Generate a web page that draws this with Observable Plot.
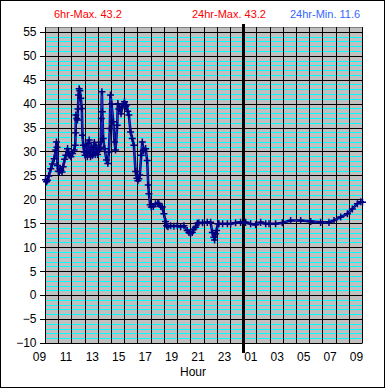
<!DOCTYPE html>
<html>
<head>
<meta charset="utf-8">
<script src="https://cdn.jsdelivr.net/npm/d3@7"></script>
<script src="https://cdn.jsdelivr.net/npm/@observablehq/plot@0.6"></script>
<style>
  html, body { margin: 0; padding: 0; background: #fff; }
  #wrap { position: relative; width: 385px; height: 388px; overflow: hidden; font-family: "Liberation Sans", Arial, sans-serif; }
  #wrap svg { position: absolute; left: 0; top: 0; }
  #border { position: absolute; left: 0; top: 0; width: 385px; height: 388px; box-sizing: border-box; border: 1px solid #000; pointer-events: none; }
  .hdr { position: absolute; top: 8px; font-size: 11px; white-space: nowrap; }
  #xlabel { position: absolute; left: 180px; top: 365px; font-size: 12px; }
</style>
</head>
<body>
<div id="wrap">
  <span class="hdr" style="left:54px;color:#ff0000">6hr-Max. 43.2</span>
  <span class="hdr" style="left:192px;color:#ff0000">24hr-Max. 43.2</span>
  <span class="hdr" style="left:290px;color:#3366ff">24hr-Min. 11.6</span>
  <span id="xlabel">Hour</span>
  <div id="border"></div>
</div>
<script>
// hours elapsed since 09:00
const hours = [
  0.00,0.08,0.15,0.25,0.40,0.52,0.66,0.78,0.83,0.87,0.91,0.97,1.04,1.10,1.16,1.25,1.34,1.45,1.54,1.67,
  1.74,1.80,1.92,2.05,2.17,2.25,2.28,2.30,2.36,2.42,2.46,2.50,2.55,2.60,2.67,2.75,2.80,2.86,2.93,3.00,
  3.06,3.11,3.17,3.23,3.31,3.36,3.41,3.48,3.56,3.62,3.70,3.76,3.81,3.88,3.94,4.00,4.07,4.13,4.19,4.23,
  4.27,4.30,4.37,4.47,4.62,4.72,4.80,4.87,4.92,5.00,5.13,5.23,5.30,5.43,5.48,5.55,5.63,5.72,5.81,5.90,
  5.98,6.06,6.14,6.22,6.31,6.44,6.57,6.69,6.82,6.92,6.99,7.07,7.14,7.25,7.33,7.40,7.45,7.58,7.70,7.78,
  7.83,7.92,8.01,8.16,8.33,8.51,8.58,8.72,8.84,8.96,9.09,9.17,9.27,9.47,9.72,9.98,10.23,10.48,10.73,10.86,
  10.98,11.11,11.23,11.36,11.49,11.61,11.89,12.25,12.50,12.63,12.75,12.80,12.88,12.95,13.05,13.13,13.41,13.77,14.02,14.39,
  14.77,15.15,15.53,15.91,16.29,16.67,16.92,17.42,17.93,18.56,19.32,20.08,20.83,21.46,21.84,22.35,22.86,23.23,23.61,23.86,
  24.00
];
const temps = [
  24.2,23.8,24.1,25.0,26.5,27.5,28.6,30.4,32.1,31.0,27.2,26.0,25.9,26.5,26.2,25.8,26.9,28.5,29.3,30.7,
  30.0,29.3,29.0,29.7,30.4,31.4,34.0,37.7,37.0,36.7,39.0,41.9,43.2,42.8,41.2,39.1,33.5,31.4,30.0,29.3,
  31.5,30.2,29.0,31.8,32.5,30.0,29.0,31.0,29.3,30.5,32.0,29.5,31.4,30.0,29.5,30.8,30.4,31.0,32.1,37.0,
  42.6,38.4,32.8,30.7,28.3,27.6,30.0,34.9,41.9,40.0,36.3,32.1,30.4,35.6,40.1,39.0,39.1,38.0,39.5,40.0,
  40.5,39.5,39.8,38.5,37.7,34.2,32.8,31.4,25.9,24.5,24.0,24.4,25.2,29.3,32.1,30.3,30.4,30.7,28.2,23.1,
  21.3,19.0,18.5,18.6,19.2,19.3,19.2,18.6,18.5,17.1,15.5,14.6,14.4,14.6,14.5,14.6,14.4,14.6,13.6,13.2,
  13.0,13.2,13.9,14.3,15.1,15.2,15.2,15.3,15.3,13.2,12.2,11.6,12.9,13.6,15.0,15.0,15.0,15.0,15.0,15.2,
  15.3,15.3,15.0,14.8,15.3,15.0,15.0,15.0,15.2,15.7,15.7,15.5,15.3,15.3,15.7,16.4,17.1,18.1,19.2,19.6,
  19.5
];
const yMajor = [-10,-5,0,5,10,15,20,25,30,35,40,45,50,55];
const yMinor = d3.range(-9, 55).filter(v => v % 5 !== 0);
const hourGrid = d3.range(0, 25);
const xTicks = [0,2,4,6,8,10,12,14,16,18,20,22,24];
const xLabels = ["09","11","13","15","17","19","21","23","01","03","05","07","09"];
const midnight = [15];

const data = hours.map((h, i) => ({h, t: temps[i]}));
const crisp = {shapeRendering: "crispEdges"};

const chart = Plot.plot({
  width: 385,
  height: 388,
  marginLeft: 45,
  marginRight: 23,
  marginTop: 27,
  marginBottom: 45,
  style: {fontFamily: "'Liberation Sans', Arial, sans-serif", fontSize: "12px", color: "#000", background: "transparent"},
  x: {domain: [0, 24]},
  y: {domain: [-10, 56]},
  marks: [
    Plot.frame({fill: "#c0c0c0", stroke: "#808080", ...crisp}),
    Plot.ruleY(yMinor, {stroke: "#00ffff", ...crisp}),
    Plot.ruleY(yMajor, {stroke: "#000", ...crisp}),
    Plot.ruleX(hourGrid, {stroke: "#000", ...crisp}),
    Plot.ruleX(midnight, {stroke: "#000", strokeWidth: 3, insetTop: -3, insetBottom: -10, ...crisp}),
    Plot.line(data, {x: "h", y: "t", stroke: "#000080", strokeWidth: 2.6}),
    Plot.line(data, {x: "h", y: "t", stroke: "#3355ff", strokeWidth: 0.8, strokeOpacity: 0.7}),
    Plot.dot(data, {x: "h", y: "t", symbol: "plus", r: 2.4, stroke: "#000080", strokeWidth: 1.5}),
    Plot.axisY({ticks: yMajor, tickSize: 5, tickPadding: 4, label: null, ...crisp}),
    Plot.axisX({ticks: xTicks, tickFormat: d => xLabels[xTicks.indexOf(d)], tickSize: 0, tickPadding: 9, dx: -6, label: null})
  ]
});
document.getElementById("wrap").insertBefore(chart, document.getElementById("xlabel"));
</script>
</body>
</html>
